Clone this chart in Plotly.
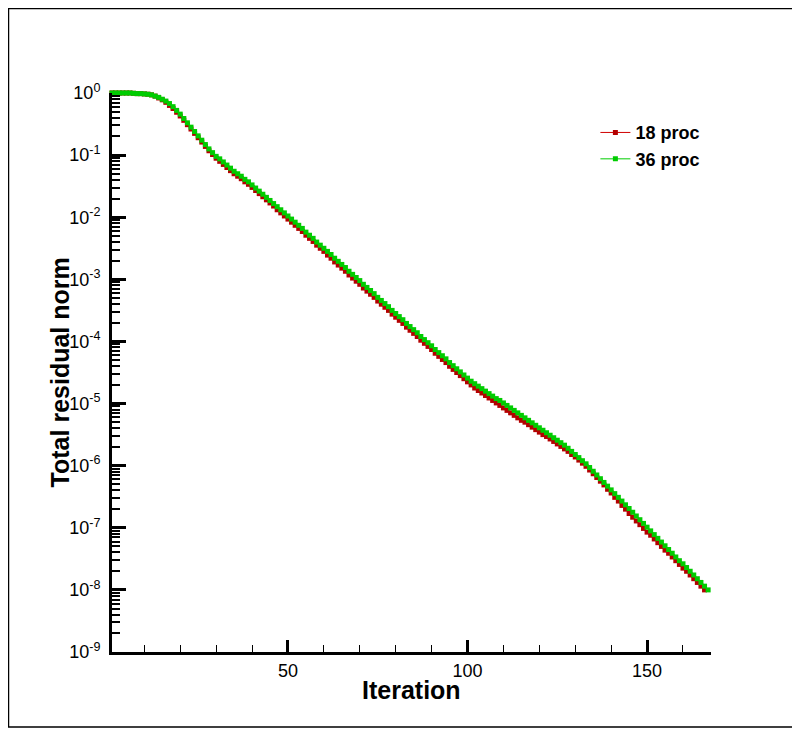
import plotly.graph_objects as go

# Iteration numbers
iter_18 = list(range(1, 167))
iter_36 = list(range(1, 168))

# log10 of total residual norm
log_res_18 = [
    0, 0, 0, 0, 0, 0, -0.005, -0.01, -0.01, -0.015,
    -0.02, -0.03, -0.05, -0.08, -0.11, -0.15, -0.20, -0.25, -0.31, -0.37,
    -0.44, -0.51, -0.58, -0.65, -0.72, -0.79, -0.86, -0.93, -0.99, -1.05,
    -1.10, -1.15, -1.20, -1.25, -1.30, -1.34, -1.38, -1.43, -1.47, -1.52,
    -1.57, -1.62, -1.67, -1.72, -1.77, -1.82, -1.88, -1.93, -1.98, -2.03,
    -2.08, -2.13, -2.18, -2.23, -2.29, -2.34, -2.39, -2.45, -2.50, -2.55,
    -2.61, -2.66, -2.72, -2.77, -2.82, -2.87, -2.93, -2.98, -3.03, -3.08,
    -3.14, -3.19, -3.24, -3.29, -3.35, -3.40, -3.45, -3.50, -3.56, -3.61,
    -3.66, -3.71, -3.77, -3.82, -3.87, -3.92, -3.98, -4.03, -4.08, -4.13,
    -4.19, -4.24, -4.29, -4.34, -4.40, -4.45, -4.50, -4.55, -4.60, -4.65,
    -4.70, -4.75, -4.79, -4.83, -4.87, -4.91, -4.95, -4.99, -5.03, -5.07,
    -5.11, -5.15, -5.19, -5.23, -5.27, -5.30, -5.34, -5.38, -5.42, -5.46,
    -5.50, -5.53, -5.57, -5.61, -5.65, -5.69, -5.73, -5.77, -5.82, -5.86,
    -5.91, -5.96, -6.01, -6.07, -6.13, -6.19, -6.25, -6.31, -6.38, -6.44,
    -6.51, -6.57, -6.64, -6.70, -6.77, -6.83, -6.89, -6.95, -7.01, -7.07,
    -7.12, -7.18, -7.24, -7.30, -7.36, -7.41, -7.47, -7.53, -7.59, -7.65,
    -7.70, -7.76, -7.82, -7.88, -7.94, -8.00,
]

log_res_36 = [
    0, 0, 0, 0, 0, 0, -0.005, -0.01, -0.01, -0.015,
    -0.02, -0.03, -0.05, -0.07, -0.10, -0.13, -0.17, -0.22, -0.28, -0.34,
    -0.41, -0.48, -0.55, -0.62, -0.69, -0.76, -0.83, -0.90, -0.96, -1.02,
    -1.06, -1.11, -1.16, -1.21, -1.26, -1.30, -1.34, -1.39, -1.43, -1.48,
    -1.53, -1.58, -1.63, -1.68, -1.73, -1.78, -1.83, -1.88, -1.93, -1.98,
    -2.03, -2.08, -2.13, -2.18, -2.24, -2.29, -2.34, -2.40, -2.45, -2.50,
    -2.55, -2.60, -2.66, -2.71, -2.76, -2.81, -2.87, -2.92, -2.97, -3.02,
    -3.08, -3.13, -3.18, -3.23, -3.29, -3.34, -3.39, -3.44, -3.50, -3.55,
    -3.60, -3.65, -3.71, -3.76, -3.81, -3.86, -3.92, -3.97, -4.02, -4.07,
    -4.13, -4.18, -4.23, -4.28, -4.34, -4.39, -4.44, -4.49, -4.54, -4.59,
    -4.64, -4.68, -4.72, -4.76, -4.80, -4.84, -4.88, -4.92, -4.95, -4.99,
    -5.03, -5.07, -5.11, -5.15, -5.19, -5.23, -5.27, -5.31, -5.35, -5.39,
    -5.43, -5.47, -5.51, -5.55, -5.59, -5.63, -5.67, -5.72, -5.77, -5.82,
    -5.87, -5.92, -5.97, -6.03, -6.09, -6.15, -6.21, -6.27, -6.33, -6.39,
    -6.45, -6.51, -6.57, -6.63, -6.69, -6.75, -6.81, -6.87, -6.93, -6.99,
    -7.05, -7.11, -7.17, -7.23, -7.29, -7.35, -7.41, -7.47, -7.53, -7.58,
    -7.64, -7.70, -7.76, -7.82, -7.88, -7.94, -8.00,
]

series_names = ["18 proc", "36 proc"]

y_exponents = list(range(0, -10, -1))
y_tick_vals = [10.0 ** e for e in y_exponents]
y_tick_text = ["10<sup>%d</sup>" % e for e in y_exponents]
y_minor_vals = [m * 10.0 ** e for e in range(-9, 0) for m in range(2, 10)]

x_tick_vals = [50, 100, 150]
x_minor_vals = [v for v in range(10, 170, 10) if v not in x_tick_vals]

res_18 = [10.0 ** v for v in log_res_18]
res_36 = [10.0 ** v for v in log_res_36]

FONT = "Liberation Sans, Arial, sans-serif"

fig = go.Figure()
fig.add_trace(go.Scatter(
    x=iter_18, y=res_18, name=series_names[0], mode="lines+markers",
    line=dict(color="#d00000", width=1),
    marker=dict(symbol="square", size=5, color="#b40000"),
    cliponaxis=False,
))
fig.add_trace(go.Scatter(
    x=iter_36, y=res_36, name=series_names[1], mode="lines+markers",
    line=dict(color="#00cc00", width=1),
    marker=dict(symbol="square", size=5, color="#00cc00"),
    cliponaxis=False,
))

fig.update_layout(
    # the page adds an 8px body margin, so the figure is 8px smaller
    width=792, height=721,
    margin=dict(l=104, r=89, t=85, b=77, autoexpand=False),
    paper_bgcolor="white", plot_bgcolor="white",
    font=dict(family=FONT, color="black", size=18),
    showlegend=True,
    legend=dict(
        x=0.807, y=0.962, xanchor="left", yanchor="top",
        bgcolor="rgba(0,0,0,0)",
        font=dict(family=FONT, size=18, color="black", weight="bold"),
    ),
    xaxis=dict(
        range=[1, 167.8], showgrid=False, zeroline=False, automargin=False,
        showline=True, linecolor="black", linewidth=3,
        ticks="inside", ticklen=12, tickwidth=3, tickcolor="black",
        tickvals=x_tick_vals,
        tickfont=dict(family=FONT, size=18, color="black"),
        minor=dict(tickvals=x_minor_vals, ticks="inside", ticklen=7,
                   tickwidth=1, tickcolor="black", showgrid=False),
    ),
    yaxis=dict(
        type="log", range=[-9, 0], showgrid=False, zeroline=False, automargin=False,
        showline=True, linecolor="black", linewidth=3,
        ticks="inside", ticklen=14, tickwidth=3, tickcolor="black",
        tickvals=y_tick_vals, ticktext=y_tick_text,
        tickfont=dict(family=FONT, size=18, color="black"),
        ticklabelstandoff=5,
        minor=dict(tickvals=y_minor_vals, ticks="inside", ticklen=8,
                   tickwidth=1.5, tickcolor="black", showgrid=False),
    ),
    annotations=[
        dict(text="<b>Iteration</b>", xref="paper", yref="paper", x=0.5, y=-0.068,
             xanchor="center", yanchor="middle", showarrow=False,
             font=dict(family=FONT, size=25, color="black")),
        dict(text="<b>Total residual norm</b>", xref="paper", yref="paper", x=-0.087, y=0.5,
             xanchor="center", yanchor="middle", showarrow=False, textangle=-90,
             font=dict(family=FONT, size=25, color="black")),
    ],
    shapes=[dict(type="rect", xref="paper", yref="paper",
                 x0=-0.1728, x1=1.140, y0=-0.134, y1=1.151,
                 line=dict(color="black", width=1.5), fillcolor="rgba(0,0,0,0)",
                 layer="below")],
)

fig.write_html("out.html")
